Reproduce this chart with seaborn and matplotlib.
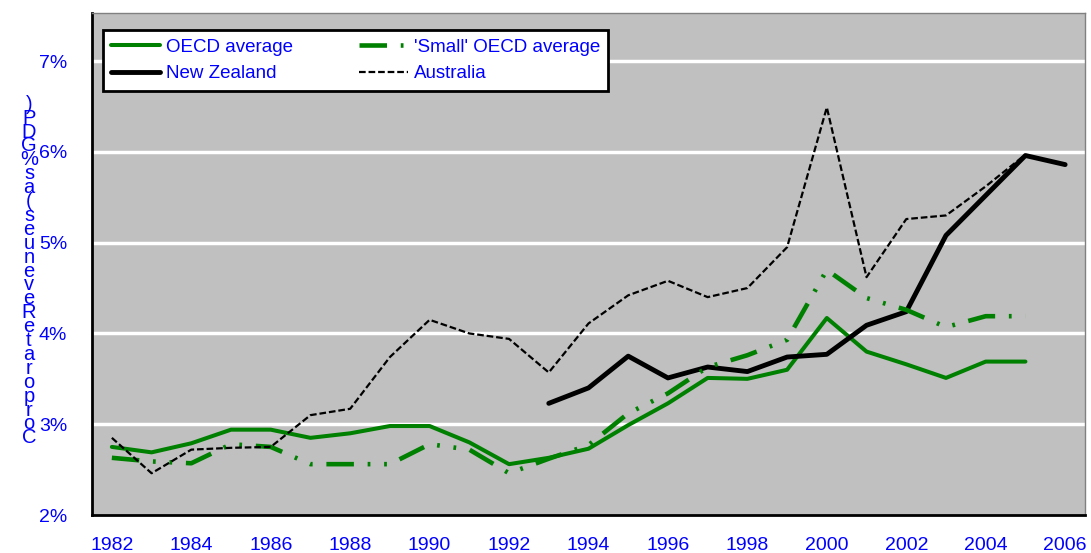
import numpy as np
import pandas as pd
import matplotlib.pyplot as plt
import seaborn as sns
from matplotlib.ticker import FixedLocator, FuncFormatter

years = list(range(1982, 2007))
oecd_avg = [2.75, 2.69, 2.79, 2.94, 2.94, 2.85, 2.90, 2.98, 2.98, 2.80, 2.56, 2.63,
            2.73, 2.99, 3.23, 3.51, 3.50, 3.60, 4.17, 3.80, 3.66, 3.51, 3.69, 3.69, np.nan]
small_oecd = [2.63, 2.59, 2.57, 2.78, 2.75, 2.56, 2.56, 2.56, 2.78, 2.72, 2.46, 2.62,
              2.77, 3.12, 3.34, 3.63, 3.76, 3.93, 4.70, 4.39, 4.26, 4.07, 4.19, 4.19, np.nan]
new_zealand = [np.nan] * 11 + [3.23, 3.40, 3.75, 3.51, 3.63, 3.58, 3.74, 3.77, 4.09,
                                4.24, 5.08, 5.52, 5.96, 5.86]
australia = [2.85, 2.46, 2.72, 2.74, 2.75, 3.10, 3.17, 3.74, 4.15, 4.00, 3.94, 3.57,
             4.11, 4.42, 4.58, 4.40, 4.50, 4.95, 6.49, 4.62, 5.26, 5.30, 5.62, 5.97, np.nan]
ylabel = "Corporate Revenues (as % GDP)"

df = pd.DataFrame({"year": years, "OECD average": oecd_avg,
                   "'Small' OECD average": small_oecd,
                   "New Zealand": new_zealand, "Australia": australia})

sns.set_style("white")
plt.rcParams["font.family"] = ["Liberation Sans", "DejaVu Sans"]

fig = plt.figure(figsize=(10.91, 5.53), dpi=100)
ax = fig.add_axes([92 / 1091, 1 - 515 / 553, 993 / 1091, 502 / 553])
ax.set_facecolor("#C0C0C0")

green = "#008000"
styles = {
    "OECD average": dict(color=green, lw=2.9, linestyle="-"),
    "New Zealand": dict(color="black", lw=3.5, linestyle="-"),
    "'Small' OECD average": dict(color=green, lw=3.3, linestyle=(0, (6, 3, 0.6, 3, 0.6, 3))),
    "Australia": dict(color="black", lw=1.6, linestyle=(0, (3, 1.3))),
}
for name in ["OECD average", "New Zealand", "'Small' OECD average", "Australia"]:
    d = df[["year", name]].dropna()
    sns.lineplot(data=d, x="year", y=name, ax=ax, label=name, **styles[name])

ax.set_xlim(1981.5, 2006.5)
ax.set_ylim(2, 7.53)
for v in [3, 4, 5, 6, 7]:
    ax.axhline(v, color="white", lw=2.5, zorder=0.5)

ax.xaxis.set_major_locator(FixedLocator(list(range(1982, 2007, 2))))
ax.xaxis.set_minor_locator(FixedLocator([y + 0.5 for y in range(1981, 2007)]))
ax.tick_params(axis="x", which="major", length=0, pad=16, labelsize=14, labelcolor="blue")
ax.tick_params(axis="x", which="minor", length=5, width=2, direction="out", color="black")
ax.set_yticks([2, 3, 4, 5, 6, 7])
ax.yaxis.set_major_formatter(FuncFormatter(lambda v, p: f"{v:.0f}%"))
ax.tick_params(axis="y", length=6, width=2, direction="out", color="black",
               labelsize=14, labelcolor="blue", pad=12)
ax.set_xlabel("")
ax.set_ylabel("")

for side in ["left", "bottom"]:
    ax.spines[side].set_linewidth(2)
    ax.spines[side].set_color("black")
for side in ["top", "right"]:
    ax.spines[side].set_linewidth(1)
    ax.spines[side].set_color("#808080")

stacked = "\n".join(reversed(ylabel.replace(" ", "")))
fig.text(29 / 1091, 1 - 271 / 553, stacked, color="blue", fontsize=14.5,
         ha="center", va="center", linespacing=0.66)

leg = ax.legend(ncol=2, loc="upper left", bbox_to_anchor=(0.011, 0.966 - 0.1235, 0.509, 0.1235),
                mode="expand", frameon=True, fancybox=False, fontsize=13.5,
                handlelength=2.6, handletextpad=0.3, borderaxespad=0, labelspacing=0.5,
                borderpad=0.45, columnspacing=1.0)
leg.get_frame().set_edgecolor("black")
leg.get_frame().set_linewidth(2)
leg.get_frame().set_facecolor("white")
leg.get_frame().set_alpha(1)
for t in leg.get_texts():
    t.set_color("blue")

fig.savefig("out.png", dpi=100)
